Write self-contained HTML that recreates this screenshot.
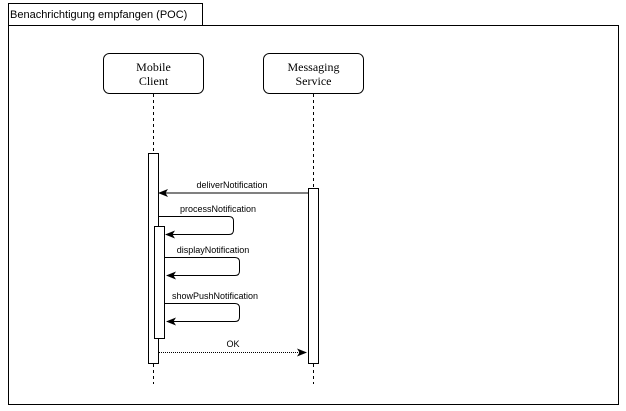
<!DOCTYPE html>
<html><head><style>body{margin:0;background:#fff}svg{display:block}</style></head><body>
<svg width="626" height="411" viewBox="0 0 626 411" xmlns="http://www.w3.org/2000/svg">
<defs>
<marker id="a" markerWidth="10" markerHeight="10" refX="9" refY="5" orient="auto" markerUnits="userSpaceOnUse"><path d="M0,1 L10,5 L0,9 L2.5,5 Z" fill="#000"/></marker>
</defs>
<rect x="8.5" y="25.5" width="610" height="379" fill="none" stroke="#000"/>
<rect x="8.5" y="3.5" width="194" height="22" fill="#fff" stroke="#000"/>
<text x="10" y="18" font-family="Liberation Sans, sans-serif" font-size="11">Benachrichtigung empfangen (POC)</text>
<rect x="103.5" y="53.5" width="100" height="40" rx="6" fill="#fff" stroke="#000"/>
<text font-family="Liberation Serif, serif" font-size="12" text-anchor="middle"><tspan x="153.5" y="71">Mobile</tspan><tspan x="153.5" y="85">Client</tspan></text>
<rect x="263.5" y="53.5" width="100" height="40" rx="6" fill="#fff" stroke="#000"/>
<text font-family="Liberation Serif, serif" font-size="12" text-anchor="middle"><tspan x="313.5" y="71">Messaging</tspan><tspan x="313.5" y="85">Service</tspan></text>
<g stroke="#000" stroke-dasharray="3,3">
<line x1="153.5" y1="94" x2="153.5" y2="384"/>
<line x1="313.5" y1="94" x2="313.5" y2="384"/>
</g>
<rect x="148.5" y="153.5" width="10" height="210" fill="#fff" stroke="#000"/>
<rect x="154.5" y="226.5" width="10" height="112" fill="#fff" stroke="#000"/>
<rect x="308.5" y="188.5" width="10" height="175" fill="#fff" stroke="#000"/>
<g font-family="Liberation Sans, sans-serif" font-size="9" text-anchor="middle" fill="#000">
<text x="232" y="188">deliverNotification</text>
<text x="218" y="212">processNotification</text>
<text x="213" y="253">displayNotification</text>
<text x="215" y="299">showPushNotification</text>
<text x="233" y="347">OK</text>
</g>
<g stroke="#000" fill="none">
<line x1="308" y1="193" x2="159" y2="193" marker-end="url(#a)"/>
<path d="M159,216.5 H229 Q233.5,216.5 233.5,221 V230 Q233.5,234.5 229,234.5 H166" marker-end="url(#a)"/>
<path d="M165,257.5 H235 Q239.5,257.5 239.5,262 V271 Q239.5,275.5 235,275.5 H167" marker-end="url(#a)"/>
<path d="M165,303.5 H235 Q239.5,303.5 239.5,308 V317 Q239.5,321.5 235,321.5 H167" marker-end="url(#a)"/>
<line x1="159" y1="352.5" x2="306" y2="352.5" stroke-dasharray="1,1" marker-end="url(#a)"/>
</g>
</svg>
</body></html>
